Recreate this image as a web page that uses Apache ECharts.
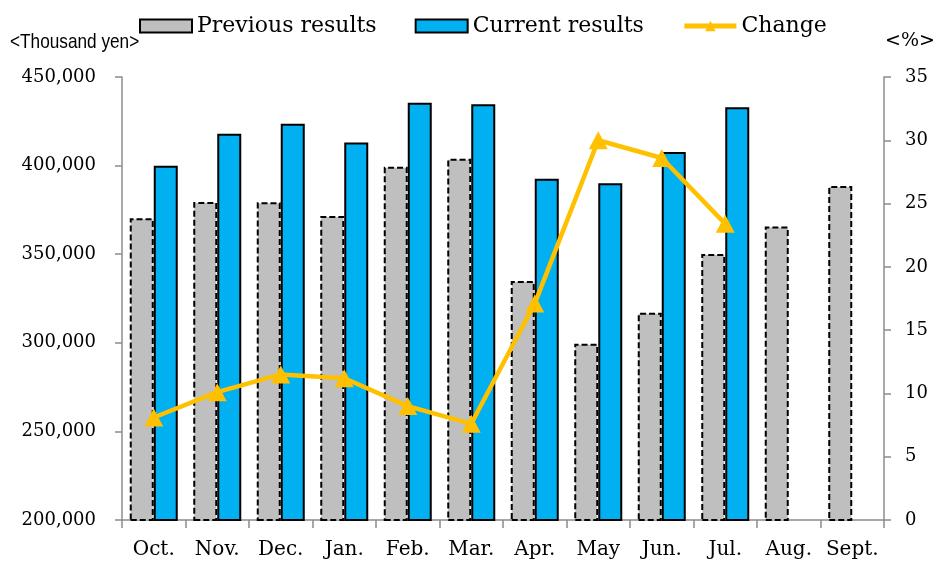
<!DOCTYPE html>
<html>
<head>
<meta charset="utf-8">
<script src="https://cdn.jsdelivr.net/npm/echarts@6/dist/echarts.min.js"></script>
<style>
html,body{margin:0;padding:0;background:#fff;}
#chart{width:937px;height:562px;}
</style>
</head>
<body>
<div id="chart"></div>
<script>
const months = ['Oct.', 'Nov.', 'Dec.', 'Jan.', 'Feb.', 'Mar.', 'Apr.', 'May', 'Jun.', 'Jul.', 'Aug.', 'Sept.'];
const previousResults = [370300, 379500, 379300, 371600, 399400, 403900, 334900, 299500, 317000, 350100, 365700, 388500];
const currentResults = [399900, 418000, 423600, 413100, 435500, 434600, 392600, 390000, 407700, 432900, null, null];
const changePct = [8.1, 10.1, 11.5, 11.2, 9.0, 7.6, 17.1, 30.0, 28.6, 23.4, null, null];
const leftTicks = { min: 200000, max: 450000, interval: 50000 };
const rightTicks = { min: 0, max: 35, interval: 5 };

const serif = "'DejaVu Serif', 'Liberation Serif', serif";
const axisGray = '#8c8c8c';
const chart = echarts.init(document.getElementById('chart'));
chart.setOption({
  animation: false,
  backgroundColor: '#ffffff',
  textStyle: { fontFamily: serif, color: '#000' },
  legend: {
    left: 139, top: 15, padding: 0,
    itemWidth: 52, itemHeight: 13, itemGap: 38,
    textStyle: { fontFamily: serif, fontSize: 22, color: '#000' },
    data: [
      { name: 'Previous results', icon: 'rect' },
      { name: 'Current results', icon: 'rect' },
      { name: 'Change', lineStyle: { width: 5 }, itemStyle: { color: '#ffc000' } }
    ]
  },
  graphic: [
    { type: 'text', left: 10, top: 32, scaleX: 0.82,
      style: { text: '<Thousand yen>', fontFamily: "'Liberation Sans', sans-serif", fontSize: 21, fill: '#000' } },
    { type: 'text', left: 885, top: 32,
      style: { text: '<%>', fontFamily: serif, fontSize: 19, fill: '#000' } }
  ],
  grid: { left: 122, right: 53, top: 77, bottom: 42 },
  xAxis: {
    type: 'category', data: months,
    axisLine: { lineStyle: { color: axisGray, width: 1.5 } },
    axisTick: { show: true, length: 8, lineStyle: { color: axisGray, width: 1.5 } },
    axisLabel: { interval: 0, fontFamily: serif, fontSize: 20, color: '#000', margin: 20, hideOverlap: false }
  },
  yAxis: [
    { type: 'value', min: leftTicks.min, max: leftTicks.max, interval: leftTicks.interval,
      axisLine: { show: true, lineStyle: { color: axisGray, width: 1.5 } },
      axisTick: { show: true, length: 7, lineStyle: { color: axisGray, width: 1.5 } },
      splitLine: { show: false },
      axisLabel: { fontFamily: serif, fontSize: 18, color: '#000', margin: 26,
        formatter: v => v.toLocaleString('en-US') } },
    { type: 'value', min: rightTicks.min, max: rightTicks.max, interval: rightTicks.interval,
      axisLine: { show: true, lineStyle: { color: axisGray, width: 1.5 } },
      axisTick: { show: true, length: 7, lineStyle: { color: axisGray, width: 1.5 } },
      splitLine: { show: false },
      axisLabel: { fontFamily: serif, fontSize: 18, color: '#000', margin: 21 } }
  ],
  series: [
    { name: 'Previous results', type: 'bar', data: previousResults, barWidth: 24, barGap: '0%',
      itemStyle: { color: '#bfbfbf', borderColor: '#000', borderWidth: 2, borderType: [6, 3] } },
    { name: 'Current results', type: 'bar', data: currentResults, barWidth: 24,
      itemStyle: { color: '#00b0f0', borderColor: '#000', borderWidth: 2 } },
    { name: 'Change', type: 'line', yAxisIndex: 1, data: changePct,
      symbol: 'triangle', symbolSize: [19, 18], z: 5,
      lineStyle: { color: '#ffc000', width: 4.5 },
      itemStyle: { color: '#ffc000' } }
  ]
});
</script>
</body>
</html>
